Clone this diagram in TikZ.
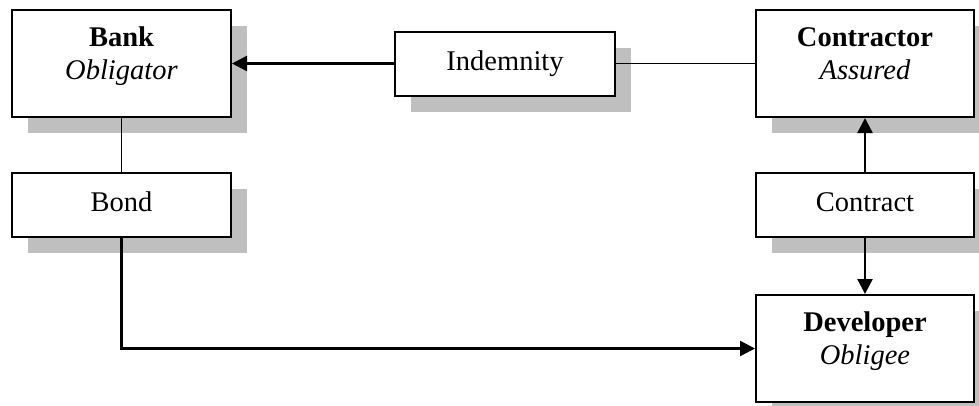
\documentclass[tikz,border=0pt]{standalone}
\usepackage{fontspec}
\setmainfont{Liberation Serif}
\usetikzlibrary{arrows.meta,shadows}
\begin{document}
\begin{tikzpicture}[x=1pt, y=-1pt,
    box/.style={draw, line width=2pt, fill=white, minimum width=219pt, minimum height=64pt,
      inner sep=0pt, text height=19pt, text depth=6pt, font=\fontsize{28.5}{33}\selectfont,
      drop shadow={shadow xshift=16pt, shadow yshift=-16pt, fill=black!25, opacity=1}},
    bigbox/.style={box, minimum height=107pt},
    txt/.style={align=center, inner sep=0pt, font=\fontsize{28.5}{33}\selectfont},
    link/.style={line width=1.3pt},
    arrow/.style={line width=2.4pt, -{Triangle[length=15pt, width=15pt]}}]
      \clip (0,0) rectangle (979,405);
      \node (bank) at (121.5,63.5) [bigbox] {};
      \node (banktext) at ([yshift=7pt]bank.center) [txt] {\strut\textbf{Bank}\\\strut\textit{Obligator}};
      \node (indemnity) at (505,63.5) [box, minimum width=220pt] {Indemnity};
      \node (contractor) at (865,63.5) [bigbox, minimum width=218pt] {};
      \node (contractortext) at ([yshift=7pt]contractor.center) [txt] {\strut\textbf{Contractor}\\\strut\textit{Assured}};
      \node (bond) at (121.5,205) [box] {Bond};
      \node (contract) at (865,205) [box, minimum width=218pt] {Contract};
      \node (developer) at (865,348.5) [bigbox, minimum width=218pt] {};
      \node (developertext) at ([yshift=7pt]developer.center) [txt] {\strut\textbf{Developer}\\\strut\textit{Obligee}};
      \foreach \source/\dest in {indemnity/bank, contract/contractor, contract/developer}
        \draw[arrow] (\source) -- (\dest);
      \foreach \source/\dest in {indemnity/contractor, bank/bond}
        \draw[link] (\source) -- (\dest);
      \draw[arrow] (bond) |- (developer);
    \end{tikzpicture}
\end{document}
